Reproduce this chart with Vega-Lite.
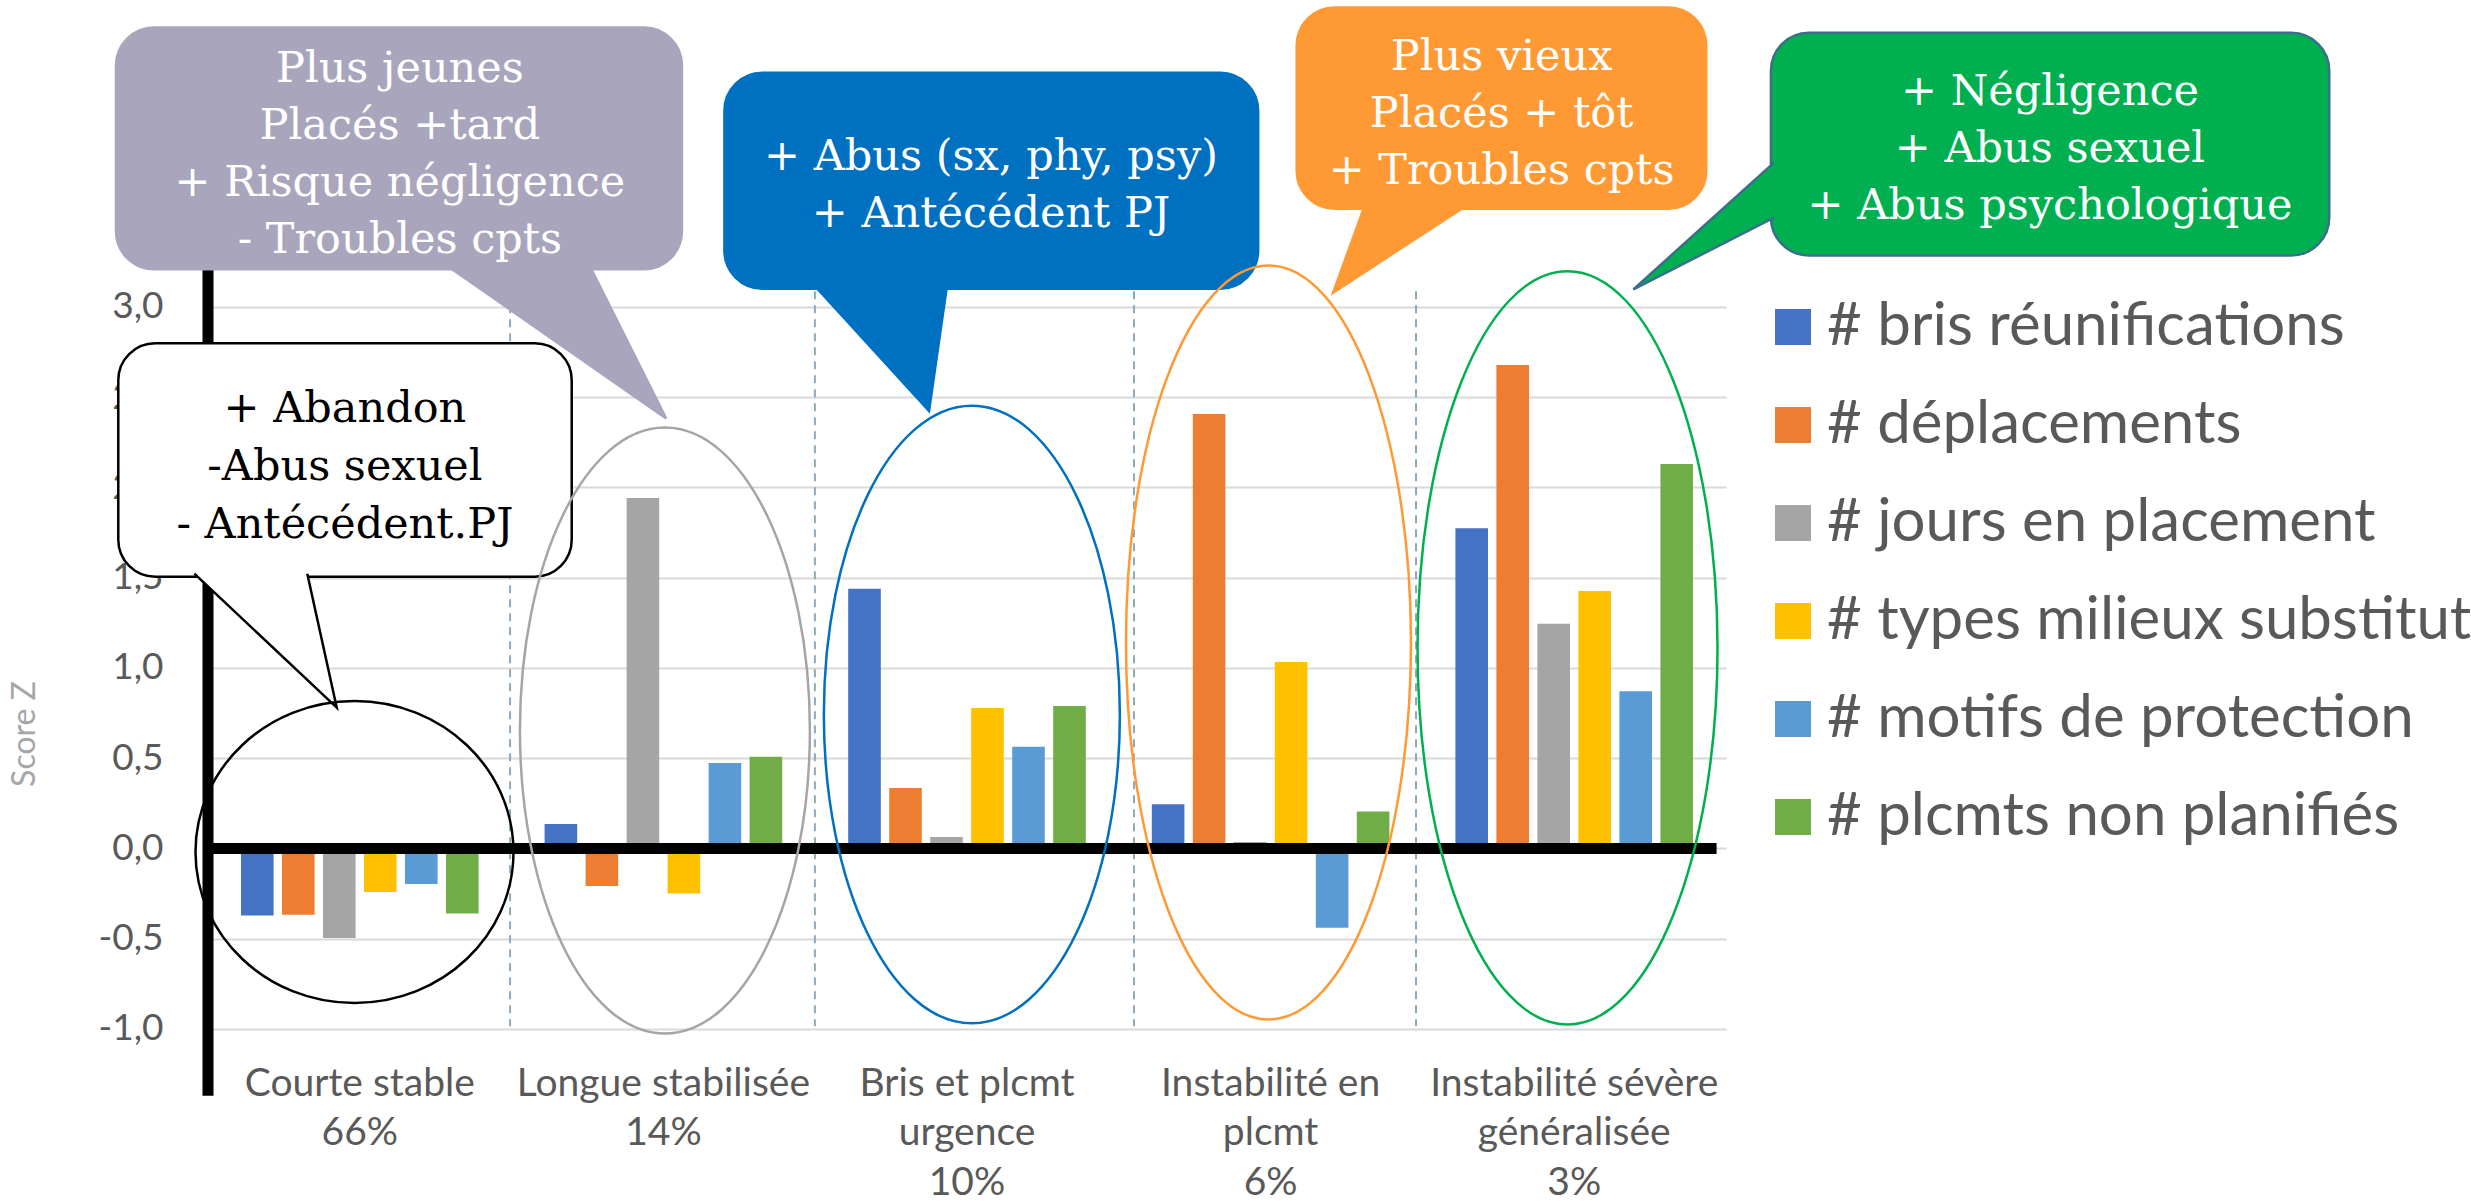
{
  "$schema": "https://vega.github.io/schema/vega-lite/v6.json",
  "width": 1518,
  "height": 1065,
  "autosize": {"type": "none"},
  "padding": {"left": 208, "top": 0, "right": 745, "bottom": 138},
  "background": "white",
  "config": {"view": {"stroke": null}, "font": "Lato"},
  "datasets": {
    "bars": [
      {"profil": "Courte stable\n66%", "variable": "# bris réunifications", "z": -0.372},
      {"profil": "Courte stable\n66%", "variable": "# déplacements", "z": -0.367},
      {"profil": "Courte stable\n66%", "variable": "# jours en placement", "z": -0.497},
      {"profil": "Courte stable\n66%", "variable": "# types milieux substitut", "z": -0.241},
      {"profil": "Courte stable\n66%", "variable": "# motifs de protection", "z": -0.197},
      {"profil": "Courte stable\n66%", "variable": "# plcmts non planifiés", "z": -0.361},
      {"profil": "Longue stabilisée\n14%", "variable": "# bris réunifications", "z": 0.135},
      {"profil": "Longue stabilisée\n14%", "variable": "# déplacements", "z": -0.209},
      {"profil": "Longue stabilisée\n14%", "variable": "# jours en placement", "z": 1.941},
      {"profil": "Longue stabilisée\n14%", "variable": "# types milieux substitut", "z": -0.25},
      {"profil": "Longue stabilisée\n14%", "variable": "# motifs de protection", "z": 0.473},
      {"profil": "Longue stabilisée\n14%", "variable": "# plcmts non planifiés", "z": 0.508},
      {"profil": "Bris et plcmt\nurgence\n10%", "variable": "# bris réunifications", "z": 1.439},
      {"profil": "Bris et plcmt\nurgence\n10%", "variable": "# déplacements", "z": 0.335},
      {"profil": "Bris et plcmt\nurgence\n10%", "variable": "# jours en placement", "z": 0.063},
      {"profil": "Bris et plcmt\nurgence\n10%", "variable": "# types milieux substitut", "z": 0.778},
      {"profil": "Bris et plcmt\nurgence\n10%", "variable": "# motifs de protection", "z": 0.563},
      {"profil": "Bris et plcmt\nurgence\n10%", "variable": "# plcmts non planifiés", "z": 0.789},
      {"profil": "Instabilité en\nplcmt\n6%", "variable": "# bris réunifications", "z": 0.245},
      {"profil": "Instabilité en\nplcmt\n6%", "variable": "# déplacements", "z": 2.407},
      {"profil": "Instabilité en\nplcmt\n6%", "variable": "# jours en placement", "z": 0.035},
      {"profil": "Instabilité en\nplcmt\n6%", "variable": "# types milieux substitut", "z": 1.032},
      {"profil": "Instabilité en\nplcmt\n6%", "variable": "# motifs de protection", "z": -0.439},
      {"profil": "Instabilité en\nplcmt\n6%", "variable": "# plcmts non planifiés", "z": 0.205},
      {"profil": "Instabilité sévère\ngénéralisée\n3%", "variable": "# bris réunifications", "z": 1.774},
      {"profil": "Instabilité sévère\ngénéralisée\n3%", "variable": "# déplacements", "z": 2.678},
      {"profil": "Instabilité sévère\ngénéralisée\n3%", "variable": "# jours en placement", "z": 1.245},
      {"profil": "Instabilité sévère\ngénéralisée\n3%", "variable": "# types milieux substitut", "z": 1.426},
      {"profil": "Instabilité sévère\ngénéralisée\n3%", "variable": "# motifs de protection", "z": 0.87},
      {"profil": "Instabilité sévère\ngénéralisée\n3%", "variable": "# plcmts non planifiés", "z": 2.13}
    ],
    "bulles": [
      {"bulle": "Longue stabilisée", "u1": -0.303, "u2": 1.561, "v1": 4.548, "v2": 3.208},
      {"bulle": "Bris et plcmt urgence", "u1": 1.701, "u2": 3.459, "v1": 4.297, "v2": 3.101},
      {"bulle": "Instabilité en plcmt", "u1": 3.586, "u2": 4.935, "v1": 4.658, "v2": 3.544},
      {"bulle": "Instabilité sévère généralisée", "u1": 5.148, "u2": 6.987, "v1": 4.519, "v2": 3.285}
    ],
    "pointes": [
      {"bulle": "Longue stabilisée", "i": 1, "u": 0.791, "v": 3.224},
      {"bulle": "Longue stabilisée", "i": 2, "u": 1.509, "v": 2.382},
      {"bulle": "Longue stabilisée", "i": 3, "u": 1.258, "v": 3.224},
      {"bulle": "Bris et plcmt urgence", "i": 1, "u": 1.998, "v": 3.117},
      {"bulle": "Bris et plcmt urgence", "i": 2, "u": 2.375, "v": 2.423},
      {"bulle": "Bris et plcmt urgence", "i": 3, "u": 2.434, "v": 3.117},
      {"bulle": "Instabilité en plcmt", "i": 1, "u": 3.81, "v": 3.561},
      {"bulle": "Instabilité en plcmt", "i": 2, "u": 3.706, "v": 3.079},
      {"bulle": "Instabilité en plcmt", "i": 3, "u": 4.145, "v": 3.561},
      {"bulle": "Instabilité sévère généralisée", "i": 1, "u": 5.158, "v": 3.799},
      {"bulle": "Instabilité sévère généralisée", "i": 2, "u": 4.695, "v": 3.097},
      {"bulle": "Instabilité sévère généralisée", "i": 3, "u": 5.158, "v": 3.494}
    ],
    "textes": [
      {"bulle": "Longue stabilisée", "u": 0.632, "v": 4.317, "t": "Plus jeunes\nPlacés +tard\n+ Risque négligence\n- Troubles cpts"},
      {"bulle": "Bris et plcmt urgence", "u": 2.579, "v": 3.828, "t": "+ Abus (sx, phy, psy)\n+ Antécédent PJ"},
      {"bulle": "Instabilité en plcmt", "u": 4.261, "v": 4.385, "t": "Plus vieux\nPlacés + tôt\n+ Troubles cpts"},
      {"bulle": "Instabilité sévère généralisée", "u": 6.067, "v": 4.19, "t": "+ Négligence\n+ Abus sexuel\n+ Abus psychologique"}
    ]
  },
  "resolve": {"scale": {"x": "independent"}},
  "layer": [
    {
      "data": {"values": [
        {"u": 0.995, "top": 3.086, "bottom": -0.985},
        {"u": 1.999, "top": 3.086, "bottom": -0.985},
        {"u": 3.05, "top": 3.086, "bottom": -0.985},
        {"u": 3.979, "top": 3.086, "bottom": -0.985}
      ]},
      "mark": {"type": "rule", "color": "#8DAAB9", "strokeWidth": 2, "strokeDash": [8, 6]},
      "encoding": {
        "x": {"field": "u", "type": "quantitative", "scale": {"domain": [0, 5], "nice": false}, "axis": null},
        "y": {
          "field": "top", "type": "quantitative",
          "scale": {"domain": [-1.2, 4.7], "nice": false},
          "axis": {
            "orient": "left", "title": "Score Z", "values": [-1, -0.5, 0, 0.5, 1, 1.5, 2, 2.5, 3],
            "labelExpr": "(datum.value < 0 ? '-' : '') + replace(format(abs(datum.value), '.1f'), '.', ',')",
            "ticks": false, "domain": false, "grid": true, "gridColor": "#D9D9D9", "gridWidth": 2,
            "labelFont": "Lato", "labelFontSize": 37, "labelColor": "#595959", "labelPadding": 45,
            "titleFont": "Lato", "titleFontSize": 32, "titleFontWeight": "normal", "titleColor": "#A6A6A6",
            "titleX": -183.5, "titleY": 733.5, "titleAngle": 270, "titleAlign": "center", "titleBaseline": "middle"
          }
        },
        "y2": {"field": "bottom"}
      }
    },
    {
      "data": {"name": "bars"},
      "mark": {"type": "bar"},
      "encoding": {
        "x": {
          "field": "profil", "type": "nominal", "sort": null,
          "scale": {"domain": ["Courte stable\n66%", "Longue stabilisée\n14%", "Bris et plcmt\nurgence\n10%", "Instabilité en\nplcmt\n6%", "Instabilité sévère\ngénéralisée\n3%"], "paddingInner": 0, "paddingOuter": 0},
          "axis": {
            "title": null, "labelExpr": "split(datum.label, '\\n')", "ticks": false, "domain": false, "grid": false,
            "labelAngle": 0, "labelFont": "Lato", "labelFontSize": 39, "labelColor": "#595959",
            "labelBaseline": "top", "labelPadding": -1, "labelLineHeight": 49.5, "labelLimit": 1000
          }
        },
        "xOffset": {
          "field": "variable", "type": "nominal", "sort": null,
          "scale": {"domain": ["# bris réunifications", "# déplacements", "# jours en placement", "# types milieux substitut", "# motifs de protection", "# plcmts non planifiés"], "paddingInner": 0.205, "paddingOuter": 0.805}
        },
        "y": {
          "field": "z", "type": "quantitative",
          "scale": {"domain": [-1.2, 4.7], "nice": false}
        },
        "color": {
          "field": "variable", "type": "nominal",
          "scale": {"domain": ["# bris réunifications", "# déplacements", "# jours en placement", "# types milieux substitut", "# motifs de protection", "# plcmts non planifiés"], "range": ["#4472C4", "#ED7D31", "#A5A5A5", "#FFC000", "#5B9BD5", "#70AD47"]},
          "legend": {
            "orient": "none", "legendX": 1555, "legendY": 297, "title": null, "padding": 0, "offset": 0,
            "symbolType": "square", "symbolSize": 1296, "symbolStrokeWidth": 0,
            "labelFont": "Lato", "labelFontSize": 60, "labelColor": "#595959", "labelLimit": 1000,
            "rowPadding": 38, "labelOffset": 4
          }
        }
      }
    },
    {
      "data": {"values": [
        {"u": 0, "u2": 0, "v": 3.5, "v2": -1.37},
        {"u": 0, "u2": 4.969, "v": 0, "v2": 0}
      ]},
      "mark": {"type": "rule", "color": "#000000", "strokeWidth": 11, "strokeCap": "butt"},
      "encoding": {
        "x": {"field": "u", "type": "quantitative", "scale": {"domain": [0, 5], "nice": false}, "axis": null},
        "x2": {"field": "u2"},
        "y": {"field": "v", "type": "quantitative", "scale": {"domain": [-1.2, 4.7], "nice": false}},
        "y2": {"field": "v2"}
      }
    },
    {
      "data": {"name": "bulles"},
      "mark": {"type": "rect", "cornerRadius": 38, "strokeWidth": 2.5},
      "encoding": {
        "x": {"field": "u1", "type": "quantitative", "scale": {"domain": [0, 5], "nice": false}, "axis": null},
        "x2": {"field": "u2"},
        "y": {"field": "v1", "type": "quantitative", "scale": {"domain": [-1.2, 4.7], "nice": false}},
        "y2": {"field": "v2"},
        "fill": {"field": "bulle", "type": "nominal", "scale": {"domain": ["Longue stabilisée", "Bris et plcmt urgence", "Instabilité en plcmt", "Instabilité sévère généralisée"], "range": ["#A8A5BD", "#0070C0", "#FF9933", "#00B050"]}, "legend": null},
        "stroke": {"field": "bulle", "type": "nominal", "scale": {"domain": ["Longue stabilisée", "Bris et plcmt urgence", "Instabilité en plcmt", "Instabilité sévère généralisée"], "range": ["#A8A5BD", "#0070C0", "#FF9933", "#3A6F8C"]}, "legend": null}
      }
    },
    {
      "data": {"name": "pointes"},
      "mark": {"type": "line", "strokeWidth": 2.5, "interpolate": "linear", "strokeJoin": "miter"},
      "encoding": {
        "x": {"field": "u", "type": "quantitative", "scale": {"domain": [0, 5], "nice": false}, "axis": null},
        "y": {"field": "v", "type": "quantitative", "scale": {"domain": [-1.2, 4.7], "nice": false}},
        "order": {"field": "i", "type": "quantitative"},
        "fill": {"field": "bulle", "type": "nominal", "scale": {"domain": ["Longue stabilisée", "Bris et plcmt urgence", "Instabilité en plcmt", "Instabilité sévère généralisée"], "range": ["#A8A5BD", "#0070C0", "#FF9933", "#00B050"]}, "legend": null},
        "stroke": {"field": "bulle", "type": "nominal", "scale": {"domain": ["Longue stabilisée", "Bris et plcmt urgence", "Instabilité en plcmt", "Instabilité sévère généralisée"], "range": ["#A8A5BD", "#0070C0", "#FF9933", "#3A6F8C"]}, "legend": null}
      }
    },
    {
      "data": {"name": "textes"},
      "mark": {"type": "text", "font": "DejaVu Serif", "fontSize": 43, "lineHeight": 57, "lineBreak": "\n", "align": "center", "baseline": "middle", "color": "#FFFFFF"},
      "encoding": {
        "x": {"field": "u", "type": "quantitative", "scale": {"domain": [0, 5], "nice": false}, "axis": null},
        "y": {"field": "v", "type": "quantitative", "scale": {"domain": [-1.2, 4.7], "nice": false}},
        "text": {"field": "t"}
      }
    },
    {
      "data": {"values": [{"bulle": "Courte stable", "u1": -0.2955, "u2": 1.198, "v1": 2.798, "v2": 1.505}]},
      "mark": {"type": "rect", "cornerRadius": 37, "fill": "#FFFFFF", "stroke": "#000000", "strokeWidth": 2.5},
      "encoding": {
        "x": {"field": "u1", "type": "quantitative", "scale": {"domain": [0, 5], "nice": false}, "axis": null},
        "x2": {"field": "u2"},
        "y": {"field": "v1", "type": "quantitative", "scale": {"domain": [-1.2, 4.7], "nice": false}},
        "y2": {"field": "v2"}
      }
    },
    {
      "data": {"values": [
        {"bulle": "Courte stable", "i": 1, "u": -0.045, "v": 1.522},
        {"bulle": "Courte stable", "i": 2, "u": 0.424, "v": 0.78},
        {"bulle": "Courte stable", "i": 3, "u": 0.327, "v": 1.522}
      ]},
      "mark": {"type": "line", "fill": "#FFFFFF", "stroke": "#000000", "strokeWidth": 2.5, "interpolate": "linear", "strokeJoin": "miter"},
      "encoding": {
        "x": {"field": "u", "type": "quantitative", "scale": {"domain": [0, 5], "nice": false}, "axis": null},
        "y": {"field": "v", "type": "quantitative", "scale": {"domain": [-1.2, 4.7], "nice": false}},
        "order": {"field": "i", "type": "quantitative"}
      }
    },
    {
      "data": {"values": [{"bulle": "Courte stable", "u": 0.451, "v": 2.435, "t": "+ Abandon\n-Abus sexuel\n- Antécédent.PJ"}]},
      "mark": {"type": "text", "font": "DejaVu Serif", "fontSize": 43, "lineHeight": 58, "lineBreak": "\n", "align": "center", "baseline": "middle", "color": "#000000"},
      "encoding": {
        "x": {"field": "u", "type": "quantitative", "scale": {"domain": [0, 5], "nice": false}, "axis": null},
        "y": {"field": "v", "type": "quantitative", "scale": {"domain": [-1.2, 4.7], "nice": false}},
        "text": {"field": "t"}
      }
    },
    {
      "data": {"values": [{"profil": "Courte stable", "u": 0.4825, "v": -0.02}]},
      "mark": {"type": "point", "shape": "M -1 0 A 1 0.9497 0 1 1 1 0 A 1 0.9497 0 1 1 -1 0 Z", "size": 101124, "filled": false, "opacity": 1, "stroke": "#000000", "strokeWidth": 2.5},
      "encoding": {
        "x": {"field": "u", "type": "quantitative", "scale": {"domain": [0, 5], "nice": false}, "axis": null},
        "y": {"field": "v", "type": "quantitative", "scale": {"domain": [-1.2, 4.7], "nice": false}}
      }
    },
    {
      "data": {"values": [{"profil": "Longue stabilisée", "u": 1.505, "v": 0.653}]},
      "mark": {"type": "point", "shape": "M -0.4785 0 A 0.4785 1 0 1 1 0.4785 0 A 0.4785 1 0 1 1 -0.4785 0 Z", "size": 367236, "filled": false, "opacity": 1, "stroke": "#A5A5A5", "strokeWidth": 2.5},
      "encoding": {
        "x": {"field": "u", "type": "quantitative", "scale": {"domain": [0, 5], "nice": false}, "axis": null},
        "y": {"field": "v", "type": "quantitative", "scale": {"domain": [-1.2, 4.7], "nice": false}}
      }
    },
    {
      "data": {"values": [{"profil": "Bris et plcmt urgence", "u": 2.516, "v": 0.742}]},
      "mark": {"type": "point", "shape": "M -0.4793 0 A 0.4793 1 0 1 1 0.4793 0 A 0.4793 1 0 1 1 -0.4793 0 Z", "size": 381430, "filled": false, "opacity": 1, "stroke": "#0070C0", "strokeWidth": 2.5},
      "encoding": {
        "x": {"field": "u", "type": "quantitative", "scale": {"domain": [0, 5], "nice": false}, "axis": null},
        "y": {"field": "v", "type": "quantitative", "scale": {"domain": [-1.2, 4.7], "nice": false}}
      }
    },
    {
      "data": {"values": [{"profil": "Instabilité en plcmt", "u": 3.493, "v": 1.141}]},
      "mark": {"type": "point", "shape": "M -0.378 0 A 0.378 1 0 1 1 0.378 0 A 0.378 1 0 1 1 -0.378 0 Z", "size": 568516, "filled": false, "opacity": 1, "stroke": "#FF9933", "strokeWidth": 2.5},
      "encoding": {
        "x": {"field": "u", "type": "quantitative", "scale": {"domain": [0, 5], "nice": false}, "axis": null},
        "y": {"field": "v", "type": "quantitative", "scale": {"domain": [-1.2, 4.7], "nice": false}}
      }
    },
    {
      "data": {"values": [{"profil": "Instabilité sévère généralisée", "u": 4.478, "v": 1.111}]},
      "mark": {"type": "point", "shape": "M -0.3982 0 A 0.3982 1 0 1 1 0.3982 0 A 0.3982 1 0 1 1 -0.3982 0 Z", "size": 567612, "filled": false, "opacity": 1, "stroke": "#00B050", "strokeWidth": 2.5},
      "encoding": {
        "x": {"field": "u", "type": "quantitative", "scale": {"domain": [0, 5], "nice": false}, "axis": null},
        "y": {"field": "v", "type": "quantitative", "scale": {"domain": [-1.2, 4.7], "nice": false}}
      }
    }
  ]
}
